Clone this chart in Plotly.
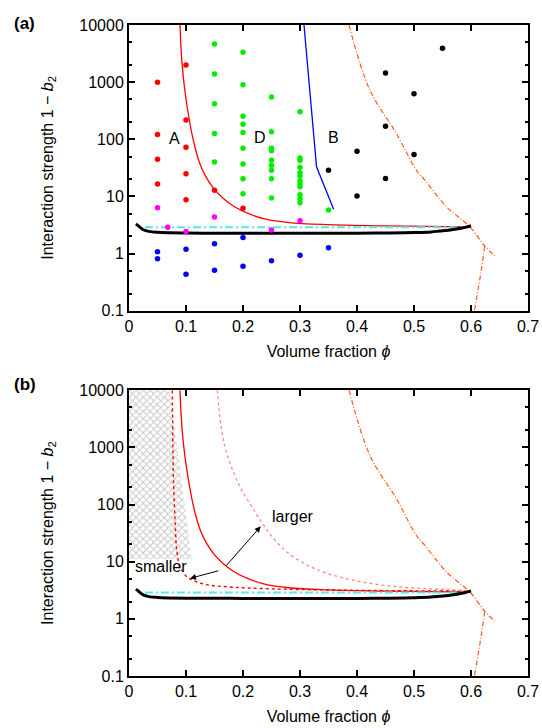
import numpy as np
import plotly.graph_objects as go

# ---------------- data ----------------
x_ticks = [0, 0.1, 0.2, 0.3, 0.4, 0.5, 0.6, 0.7]
x_tick_text = ["0", "0.1", "0.2", "0.3", "0.4", "0.5", "0.6", "0.7"]
y_ticks = [0.1, 1, 10, 100, 1000, 10000]
y_tick_text = ["0.1", "1", "10", "100", "1000", "10000"]

# region A (red points)
red_x = [0.05, 0.05, 0.05, 0.05, 0.1, 0.1, 0.1, 0.1, 0.1, 0.15, 0.2]
red_y = [1000, 122, 45, 16.5, 2000, 217, 73, 25, 8.8, 12.9, 6.2]

# magenta points
mag_x = [0.05, 0.068, 0.1, 0.15, 0.25, 0.3]
mag_y = [6.35, 2.88, 2.45, 4.37, 2.6, 3.76]

# blue points
blue_x = [0.05, 0.05, 0.1, 0.1, 0.15, 0.15, 0.2, 0.2, 0.25, 0.3, 0.35]
blue_y = [1.08, 0.81, 1.19, 0.434, 1.49, 0.51, 1.92, 0.60, 0.75, 0.94, 1.27]

# region D (green points)
green_x = ([0.15] * 5 + [0.2] * 9 + [0.25] * 9 + [0.3] * 12 + [0.35])
green_y = ([4640, 1390, 420, 127, 40]
           + [3330, 900, 252, 183, 132, 70, 37, 20.4, 11.2]
           + [550, 136, 70, 63, 43, 35, 28.7, 20.4, 9.4]
           + [304, 47, 43, 32, 26, 22.8, 18.8, 16.5, 14.8, 10.7, 9.1, 7.8]
           + [5.8])

# region B (black points)
black_x = [0.55, 0.45, 0.5, 0.45, 0.4, 0.5, 0.35, 0.45, 0.4]
black_y = [3900, 1450, 630, 169, 62, 54, 28.7, 20.7, 10.2]

# red solid boundary curve
redc_x = [0.0894, 0.092, 0.095, 0.099, 0.104, 0.110, 0.117, 0.125, 0.135, 0.148,
          0.165, 0.185, 0.210, 0.240, 0.280, 0.350, 0.450, 0.600]
redc_y = [10000, 3000, 1300, 600, 280, 130, 65, 36, 22, 14,
          9.3, 6.6, 5.0, 4.0, 3.5, 3.22, 3.05, 2.95]

# blue boundary line
bluec_x = [0.307, 0.329, 0.359]
bluec_y = [10000, 33, 6.0]

# black thick curve
blackc_x = [0.012, 0.015, 0.02, 0.025, 0.035, 0.05, 0.1, 0.2, 0.3, 0.4, 0.45,
            0.5, 0.53, 0.545, 0.56, 0.58, 0.59, 0.6]
blackc_y = [3.3, 3.15, 2.85, 2.62, 2.45, 2.37, 2.3, 2.28, 2.28, 2.28, 2.3,
            2.34, 2.4, 2.48, 2.56, 2.75, 2.88, 3.08]

# cyan dash-dot line
cyan_x = [0.028, 0.59]
cyan_y = [2.9, 2.9]

# orange dash-dot curves
or1_x = [0.386, 0.4225, 0.469, 0.504, 0.519, 0.557, 0.598, 0.624, 0.6415]
or1_y = [10000, 728, 127, 29, 19.4, 6.6, 2.95, 1.36, 0.91]
or2_x = [0.624, 0.618, 0.606]
or2_y = [1.36, 0.515, 0.1]

# panel (b): "smaller" dotted curve
sm_x = [0.076, 0.077, 0.078, 0.081, 0.084, 0.09, 0.1, 0.107, 0.12, 0.136,
        0.178, 0.25, 0.35, 0.45, 0.6]
sm_y = [10000, 1000, 273, 50, 15, 8, 5.6, 5.0, 4.4, 3.96,
        3.6, 3.35, 3.2, 3.12, 3.05]

# panel (b): "larger" dotted curve
lg_x = [0.155, 0.160, 0.168, 0.180, 0.195, 0.213, 0.232, 0.253, 0.276, 0.310,
        0.3465, 0.400, 0.463, 0.530, 0.600]
lg_y = [10000, 3000, 1050, 450, 200, 100, 50, 26, 15, 9,
        6.3, 4.6, 3.7, 3.35, 3.1]

# hatched region
hatch_x = [0, 0.072, 0.11, 0, 0]
hatch_y = [10000, 10000, 11, 11, 10000]

# arrows: (tail, head)
arrow_large = [(0.1686, 8.07), (0.231, 41.5)]
arrow_small = [(0.1595, 7.05), (0.107, 5.1)]

# region labels
region_labels = [("A", 0.079, 104), ("D", 0.2296, 108), ("B", 0.359, 108)]

FONT = "Liberation Sans, Arial, Helvetica, sans-serif"
ORANGE_DASH = "5px,2px,1px,2px"

fig = go.Figure()


def add_common(xa, ya):
    fig.add_trace(go.Scatter(x=redc_x, y=redc_y, mode="lines",
                             line=dict(color="#ff0000", width=1.3, shape="spline"),
                             xaxis=xa, yaxis=ya))
    fig.add_trace(go.Scatter(x=or1_x, y=or1_y, mode="lines",
                             line=dict(color="#ff5a1a", width=1.2, dash=ORANGE_DASH, shape="spline"),
                             xaxis=xa, yaxis=ya))
    fig.add_trace(go.Scatter(x=or2_x, y=or2_y, mode="lines",
                             line=dict(color="#ff5a1a", width=1.2, dash=ORANGE_DASH, shape="spline"),
                             xaxis=xa, yaxis=ya))
    fig.add_trace(go.Scatter(x=cyan_x, y=cyan_y, mode="lines",
                             line=dict(color="#55e8e8", width=2, dash="8px,3px,2px,3px"),
                             xaxis=xa, yaxis=ya))
    fig.add_trace(go.Scatter(x=blackc_x, y=blackc_y, mode="lines",
                             line=dict(color="black", width=3, shape="spline"),
                             xaxis=xa, yaxis=ya))


# ---- panel (a)
fig.add_trace(go.Scatter(x=bluec_x, y=bluec_y, mode="lines",
                         line=dict(color="#0000ff", width=1.3), xaxis="x", yaxis="y"))
add_common("x", "y")
for px_, py_, col in [(red_x, red_y, "#ff0000"), (mag_x, mag_y, "#ff00ff"),
                      (blue_x, blue_y, "#0000ff"), (green_x, green_y, "#00ee00"),
                      (black_x, black_y, "black")]:
    fig.add_trace(go.Scatter(x=px_, y=py_, mode="markers",
                             marker=dict(color=col, size=5.5, line=dict(width=0)),
                             xaxis="x", yaxis="y"))

# ---- panel (b)
fig.add_trace(go.Scatter(x=hatch_x, y=hatch_y, mode="lines", fill="toself",
                         line=dict(width=0, color="rgba(0,0,0,0)"),
                         fillcolor="white",
                         fillpattern=dict(shape="x", fgcolor="#8c8c8c", bgcolor="white",
                                          size=5, solidity=0.35),
                         xaxis="x2", yaxis="y2"))
fig.add_trace(go.Scatter(x=sm_x, y=sm_y, mode="lines",
                         line=dict(color="#ff0000", width=1.4, dash="dot", shape="spline"),
                         xaxis="x2", yaxis="y2"))
fig.add_trace(go.Scatter(x=lg_x, y=lg_y, mode="lines",
                         line=dict(color="#ff8080", width=1.2, dash="dot", shape="spline"),
                         xaxis="x2", yaxis="y2"))
add_common("x2", "y2")

annotations = []
for (t, h) in [arrow_large, arrow_small]:
    annotations.append(dict(x=h[0], y=np.log10(h[1]), ax=t[0], ay=np.log10(t[1]),
                            xref="x2", yref="y2", axref="x2", ayref="y2",
                            showarrow=True, arrowhead=2, arrowsize=1.2, arrowwidth=1,
                            arrowcolor="black", text=""))
annotations.append(dict(x=0.288, y=np.log10(62), xref="x2", yref="y2", text="larger",
                        showarrow=False, font=dict(size=16, family=FONT, color="black")))
annotations.append(dict(x=0.057, y=np.log10(8.1), xref="x2", yref="y2", text="smaller",
                        showarrow=False, font=dict(size=16, family=FONT, color="black")))
for (t, lx, ly) in region_labels:
    annotations.append(dict(x=lx, y=np.log10(ly), xref="x", yref="y", text=t,
                            showarrow=False, font=dict(size=16, family=FONT, color="black")))
annotations.append(dict(x=-0.293, y=1.003, xref="paper", yref="paper", text="<b>(a)</b>",
                        xanchor="left", yanchor="middle", showarrow=False,
                        font=dict(size=17, family=FONT, color="black")))
annotations.append(dict(x=-0.293, y=0.4485, xref="paper", yref="paper", text="<b>(b)</b>",
                        xanchor="left", yanchor="middle", showarrow=False,
                        font=dict(size=17, family=FONT, color="black")))

xax = dict(range=[0, 0.7], tickvals=x_ticks, ticktext=x_tick_text, automargin=False,
           showline=True, linewidth=2, linecolor="black", mirror="allticks",
           ticks="inside", ticklen=6, tickwidth=1.5, tickcolor="black",
           showgrid=False, zeroline=False,
           tickfont=dict(size=16, family=FONT, color="black"),
           title=dict(text="Volume fraction <i>ϕ</i>", font=dict(size=16, family=FONT, color="black"),
                      standoff=12))
yax = dict(type="log", range=[-1, 4], tickvals=y_ticks, ticktext=y_tick_text, automargin=False,
           showline=True, linewidth=2, linecolor="black", mirror="allticks",
           ticks="inside", ticklen=6, tickwidth=1.5, tickcolor="black",
           minor=dict(ticks="inside", ticklen=3, dtick="D2", tickcolor="black", showgrid=False),
           showgrid=False, zeroline=False,
           tickfont=dict(size=16, family=FONT, color="black"),
           title=dict(text="Interaction strength 1 − <i>b</i><sub>2</sub>",
                      font=dict(size=16, family=FONT, color="black"), standoff=22))

fig.update_layout(
    width=542, height=728, autosize=False,
    margin=dict(l=129, r=14, t=25, b=52),
    paper_bgcolor="white", plot_bgcolor="white",
    showlegend=False,
    font=dict(family=FONT, size=16, color="black"),
    xaxis=dict(xax, anchor="y"),
    yaxis=dict(yax, domain=[0.561, 1], anchor="x"),
    xaxis2=dict(xax, anchor="y2"),
    yaxis2=dict(yax, domain=[0, 0.439], anchor="x2"),
    annotations=annotations,
)

fig.write_html("out.html", config={"responsive": False, "displayModeBar": False},
               post_script="document.body.style.margin='0';document.body.style.overflow='hidden';")
